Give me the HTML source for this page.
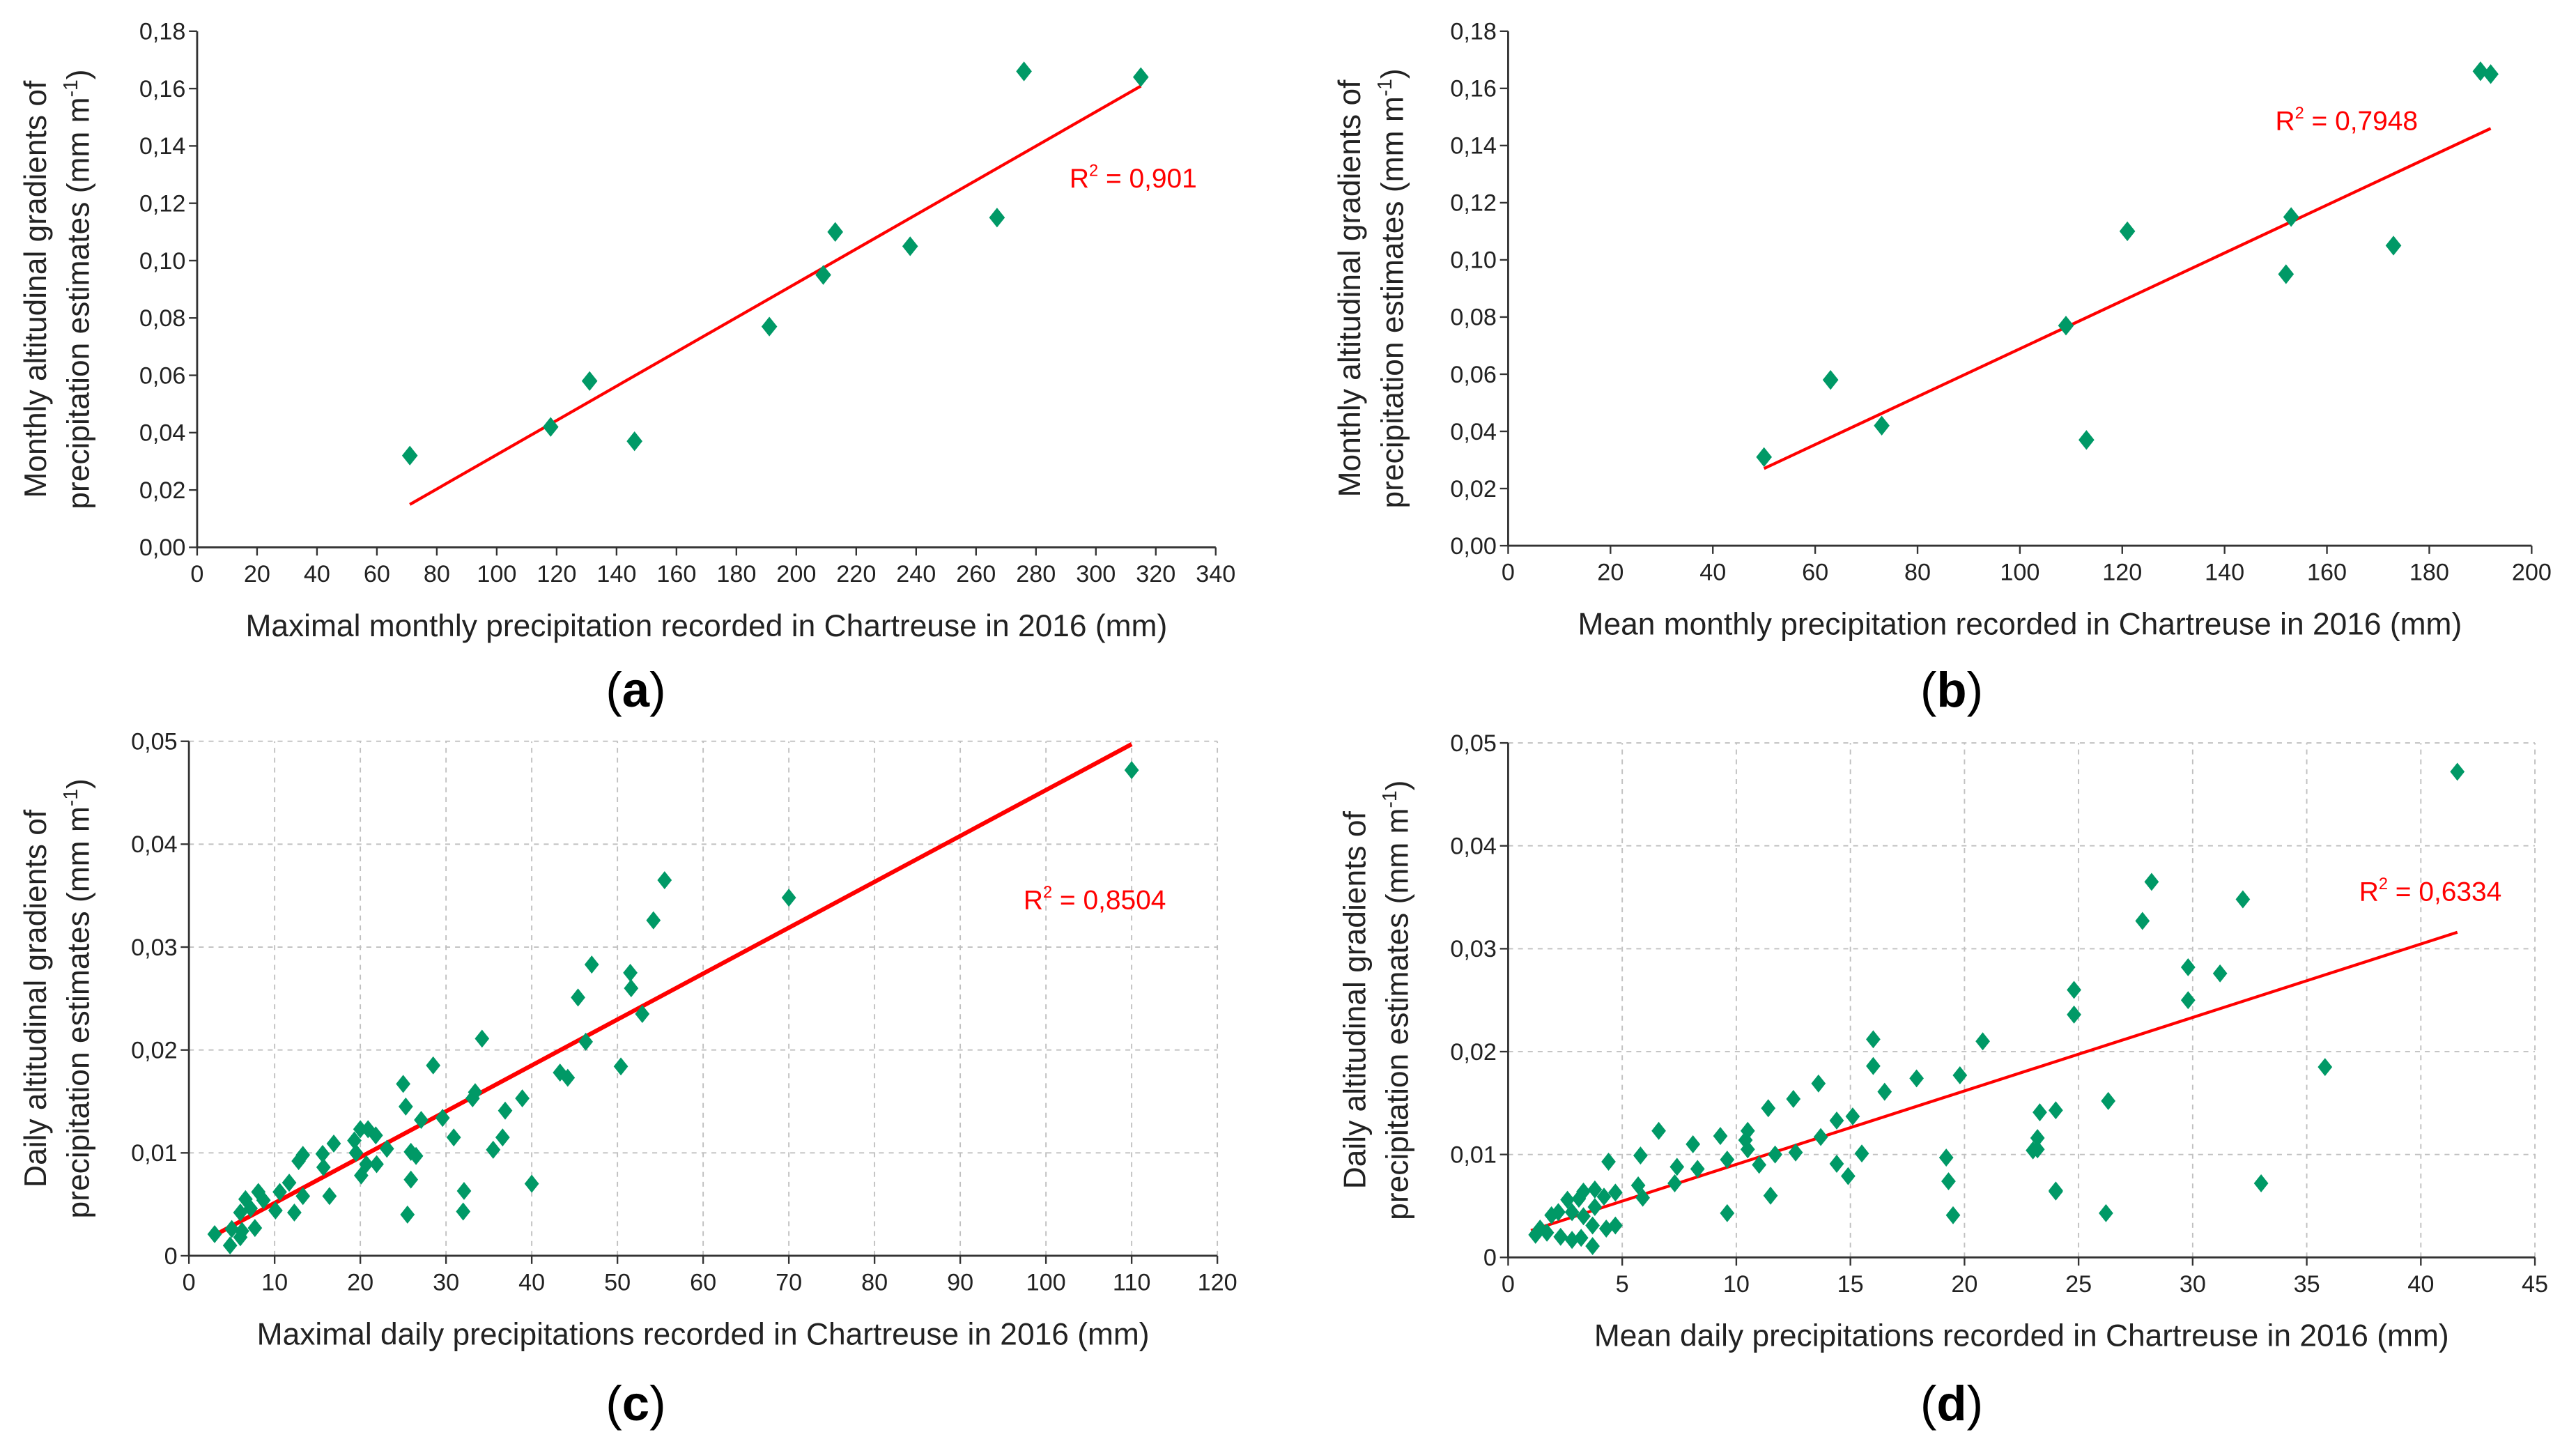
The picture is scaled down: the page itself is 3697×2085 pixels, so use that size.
<!DOCTYPE html>
<html><head><meta charset="utf-8">
<style>
html,body{margin:0;padding:0;background:#fff;}
svg{display:block;}
text{font-family:"Liberation Sans",Arial,sans-serif;}
</style></head>
<body>
<svg id="fig" xmlns="http://www.w3.org/2000/svg" width="3697" height="2085" viewBox="0 0 1568 884" preserveAspectRatio="none">
<rect width="1568" height="884" fill="#fff"/>
</svg>
<script>
// Panel (a)
const aX = [71,118,131,146,191,209,213,238,267,276,315];
const aY = [0.032,0.042,0.058,0.037,0.077,0.095,0.110,0.105,0.115,0.166,0.164];
const aTrend = [-0.0275,0.000598]; // intercept, slope
const aXTicks = [0,20,40,60,80,100,120,140,160,180,200,220,240,260,280,300,320,340];
const aYTicks = ["0,00","0,02","0,04","0,06","0,08","0,10","0,12","0,14","0,16","0,18"];
// Panel (b)
const bX = [50,63,73,109,113,121,152,153,173,190,192];
const bY = [0.031,0.058,0.042,0.077,0.037,0.110,0.095,0.115,0.105,0.166,0.165];
const bTrend = [-0.0149,0.000838];
const bXTicks = [0,20,40,60,80,100,120,140,160,180,200];
const bYTicks = aYTicks;
// Panel (c)
const cX = [54.2,47,51.5,51.6,45.4,52.9,34.2,46.3,28.5,43.3,44.2,50.4,25,33.4,33.1,38.9,25.3,36.9,27.1,29.6,20,20.9,21.8,19.3,30.9,36.6,16.9,23.1,13.3,12.8,15.6,19.5,25.9,26.5,35.5,15.7,20.7,21.9,20.1,25.9,40,11.7,10.6,13.3,16.4,32.1,8.1,6.6,8.7,10.1,12.3,25.5,32,6,7.2,7.7,6.2,5,3,4.8,6,70,55.5,110];
const cY = [0.0326,0.0283,0.0275,0.026,0.0251,0.0235,0.0211,0.0208,0.0185,0.0178,0.0173,0.0184,0.0167,0.0159,0.0153,0.0153,0.0145,0.0141,0.0132,0.0134,0.0123,0.0123,0.0117,0.0112,0.0115,0.0115,0.0109,0.0104,0.0098,0.0092,0.0099,0.01,0.0101,0.0097,0.0103,0.0086,0.0089,0.0089,0.0078,0.0074,0.007,0.0071,0.0062,0.0058,0.0058,0.0063,0.0062,0.0055,0.0054,0.0044,0.0042,0.004,0.0043,0.0042,0.0046,0.0027,0.0024,0.0026,0.0021,0.001,0.0018,0.0348,0.0365,0.0472];
const cTrend = [0.00066,0.000446];
const cXTicks = [0,10,20,30,40,50,60,70,80,90,100,110,120];
const cYTicks = ["0","0,01","0,02","0,03","0,04","0,05"];
// Panel (d)
const dX = [16,20.8,16,17.9,19.8,16.5,13.6,12.5,11.4,23.3,24,14.4,15.1,10.5,6.6,9.3,8.1,10.4,10.5,13.7,23.2,5.8,4.4,11.7,12.6,15.5,23,9.6,7.4,8.3,11,14.4,19.2,14.9,19.3,5.7,7.3,3.8,3.3,4.7,11.5,24,5.9,2.6,3.1,4.2,3.8,2.2,1.9,2.8,9.6,19.5,3.3,3.7,4.3,4.7,1.4,1.2,1.7,2.3,2.8,3.2,3.7,28.2,27.8,32.2,29.8,31.2,29.8,24.8,24.8,41.6,35.8,26.3,33,26.2,24,23.2];
const dY = [0.0212,0.021,0.0186,0.0174,0.0177,0.0161,0.0169,0.0154,0.0145,0.0141,0.0143,0.0133,0.0137,0.0123,0.0123,0.0118,0.011,0.0114,0.0105,0.0117,0.0116,0.0099,0.0093,0.01,0.0102,0.0101,0.0104,0.0095,0.0088,0.0086,0.009,0.0091,0.0097,0.0079,0.0074,0.007,0.0072,0.0066,0.0064,0.0063,0.006,0.0064,0.0058,0.0056,0.0057,0.0059,0.0049,0.0044,0.0041,0.0044,0.0043,0.0041,0.004,0.0031,0.0028,0.0031,0.0028,0.0022,0.0024,0.002,0.0017,0.0019,0.0011,0.0365,0.0327,0.0348,0.0282,0.0276,0.025,0.026,0.0236,0.0472,0.0185,0.0152,0.0072,0.0043,0.0065,0.0105];
const dTrend = [0.0019,0.000714];
const dXTicks = [0,5,10,15,20,25,30,35,40,45];
const dYTicks = cYTicks;

const NS = "http://www.w3.org/2000/svg";
const svg = document.getElementById('fig');
function el(tag, attrs, parent){const e=document.createElementNS(NS,tag);for(const k in attrs)e.setAttribute(k,attrs[k]);(parent||svg).appendChild(e);return e;}

function panel(cfg){
  const g = el('g',{});
  
  
  const sx = v => cfg.x0 + (v - cfg.xmin)/(cfg.xmax-cfg.xmin)*(cfg.x1-cfg.x0);
  const sy = v => cfg.y0 - (v - cfg.ymin)/(cfg.ymax-cfg.ymin)*(cfg.y0-cfg.y1);
  const nY = cfg.yTicks.length;
  if(cfg.grid){
    cfg.xTicks.forEach((t,i)=>{ if(i===0) return;
      const gl = el('line',{x1:sx(t),x2:sx(t),y1:cfg.y0,y2:cfg.y1,stroke:'#c0c0c0','stroke-width':0.8,'stroke-dasharray':'3,3'},g);
      
      
    });
    for(let i=1;i<nY;i++){ const v = cfg.ymin + i*(cfg.ymax-cfg.ymin)/(nY-1);
      const gl = el('line',{x1:cfg.x0,x2:cfg.x1,y1:sy(v),y2:sy(v),stroke:'#c0c0c0','stroke-width':0.8,'stroke-dasharray':'3,3'},g);
      
      
    }
  }
  const ax = el('line',{x1:cfg.x0,x2:cfg.x1,y1:cfg.y0,y2:cfg.y0,stroke:'#333','stroke-width':1.2},g);
  
  
  const ay = el('line',{x1:cfg.x0,x2:cfg.x0,y1:cfg.y0,y2:cfg.y1,stroke:'#333','stroke-width':1.2},g);
  
  
  cfg.xTicks.forEach(t=>{
    el('line',{x1:sx(t),x2:sx(t),y1:cfg.y0,y2:cfg.y0+5,stroke:'#333','stroke-width':1},g);
    const tx = el('text',{x:sx(t),y:cfg.y0+21,'font-size':14.5,'text-anchor':'middle',fill:'#222'},g);
    tx.textContent = t;
    
    
  });
  cfg.yTicks.forEach((t,i)=>{
    const v = cfg.ymin + i*(cfg.ymax-cfg.ymin)/(nY-1);
    el('line',{x1:cfg.x0-5,x2:cfg.x0,y1:sy(v),y2:sy(v),stroke:'#333','stroke-width':1},g);
    const tx = el('text',{x:cfg.x0-7,y:sy(v)+5,'font-size':14.5,'text-anchor':'end',fill:'#222'},g);
    tx.textContent = t;
    
    
  });
  const xt = el('text',{x:(cfg.x0+cfg.x1)/2,y:cfg.y0+54,'font-size':18.8,'text-anchor':'middle',fill:'#222'},g);
  xt.textContent = cfg.xTitle;
  
  
  const ycx = cfg.x0 - cfg.yTitleOff, ycy = (cfg.y0+cfg.y1)/2;
  const yt = el('text',{transform:`translate(${ycx},${ycy}) rotate(-90)`,'font-size':18.8,'text-anchor':'middle',fill:'#222'},g);
  
  
  const t1 = el('tspan',{x:0,y:-13},yt); t1.textContent = cfg.yTitle1;
  const t2 = el('tspan',{x:0,y:13},yt); t2.textContent = 'precipitation estimates (mm m';
  const t3 = el('tspan',{dy:-7,'font-size':12},yt); t3.textContent = '-1';
  const t4 = el('tspan',{dy:7},yt); t4.textContent = ')';
  const xa = cfg.trendRange[0], xb = cfg.trendRange[1];
  const tl = el('line',{x1:sx(xa),y1:sy(cfg.trend[0]+cfg.trend[1]*xa),x2:sx(xb),y2:sy(cfg.trend[0]+cfg.trend[1]*xb),stroke:'#ff0000','stroke-width':cfg.lw},g);
  
  
  const r = cfg.r;
  cfg.xs.forEach((x,i)=>{
    const px = sx(x), py = sy(cfg.ys[i]);
    const p = el('polygon',{points:`${px},${py-r} ${px+r*0.8},${py} ${px},${py+r} ${px-r*0.8},${py}`,fill:'#009966'},g);
    
    
  });
  const rt = el('text',{x:cfg.r2[0],y:cfg.r2[1],'font-size':16.5,fill:'#ff0000'},g);
  
  
  const r1 = el('tspan',{},rt); r1.textContent='R';
  const r2 = el('tspan',{dy:-7,'font-size':10},rt); r2.textContent='2';
  const r3 = el('tspan',{dy:7},rt); r3.textContent=' = '+cfg.r2text;
  const pl = el('text',{x:cfg.lab[0],y:cfg.lab[1],'font-size':30,'text-anchor':'middle',fill:'#000','font-family':'Liberation Serif, serif'},g);
  
  
  const p1=el('tspan',{},pl);p1.textContent='(';
  const p2=el('tspan',{'font-weight':'bold'},pl);p2.textContent=cfg.id;
  const p3=el('tspan',{},pl);p3.textContent=')';
}

panel({id:'a',x0:120,x1:740,y0:333,y1:19,xmin:0,xmax:340,ymin:0,ymax:0.18,xTicks:aXTicks,yTicks:aYTicks,xs:aX,ys:aY,trend:aTrend,trendRange:[71,315],lw:1.8,r:6,grid:false,
  xTitle:'Maximal monthly precipitation recorded in Chartreuse in 2016 (mm)',yTitle1:'Monthly altitudinal gradients of',yTitleOff:79,r2:[651,114],r2text:'0,901',lab:[387,430]});
panel({id:'b',x0:918,x1:1541,y0:332,y1:19,xmin:0,xmax:200,ymin:0,ymax:0.18,xTicks:bXTicks,yTicks:bYTicks,xs:bX,ys:bY,trend:bTrend,trendRange:[50,192],lw:1.8,r:6,grid:false,
  xTitle:'Mean monthly precipitation recorded in Chartreuse in 2016 (mm)',yTitle1:'Monthly altitudinal gradients of',yTitleOff:77,r2:[1385,79],r2text:'0,7948',lab:[1188,430]});
panel({id:'c',x0:115,x1:741,y0:764,y1:451,xmin:0,xmax:120,ymin:0,ymax:0.05,xTicks:cXTicks,yTicks:cYTicks,xs:cX,ys:cY,trend:cTrend,trendRange:[3,110],lw:2.6,r:5.5,grid:true,
  xTitle:'Maximal daily precipitations recorded in Chartreuse in 2016 (mm)',yTitle1:'Daily altitudinal gradients of',yTitleOff:74,r2:[623,553],r2text:'0,8504',lab:[387,864]});
panel({id:'d',x0:918,x1:1543,y0:765,y1:452,xmin:0,xmax:45,ymin:0,ymax:0.05,xTicks:dXTicks,yTicks:dYTicks,xs:dX,ys:dY,trend:dTrend,trendRange:[1,41.6],lw:1.8,r:5.5,grid:true,
  xTitle:'Mean daily precipitations recorded in Chartreuse in 2016 (mm)',yTitle1:'Daily altitudinal gradients of',yTitleOff:74,r2:[1436,548],r2text:'0,6334',lab:[1188,864]});
</script>
</body></html>
